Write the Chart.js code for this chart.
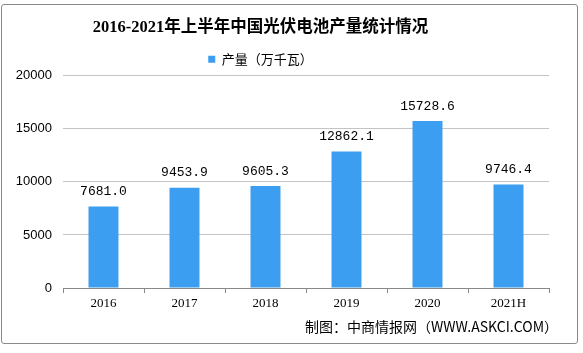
<!DOCTYPE html>
<html><head><meta charset="utf-8">
<script src="https://cdn.jsdelivr.net/npm/chart.js@4/dist/chart.umd.min.js"></script>
<style>
html,body{margin:0;padding:0;background:#fff;}
#wrap{position:relative;width:583px;height:353px;}
#frame{position:absolute;left:1px;top:4px;width:577px;height:340px;border:1px solid #8a8a8a;border-radius:3px;box-sizing:border-box;pointer-events:none;}
#footer{position:absolute;left:305px;top:317px;font:14px "Noto Sans CJK SC","Liberation Sans",sans-serif;color:#000;white-space:nowrap;line-height:18px;}
canvas{position:absolute;left:0;top:0;}
</style></head>
<body><div id="wrap"><canvas id="c" width="583" height="353"></canvas><div id="frame"></div>
<div id="footer">制图：中商情报网（WWW.ASKCI.COM）</div></div>
<script>
const categories = ["2016","2017","2018","2019","2020","2021H"];
const production = [7681.0, 9453.9, 9605.3, 12862.1, 15728.6, 9746.4];
const yTicks = [0, 5000, 10000, 15000, 20000];
const seriesName = "产量（万千瓦）";
const titleText = "2016-2021年上半年中国光伏电池产量统计情况";

const valueLabels = {
  id: 'valueLabels',
  afterDatasetsDraw(chart) {
    const ctx = chart.ctx;
    const meta = chart.getDatasetMeta(0);
    ctx.save();
    ctx.font = '13px "Liberation Mono", monospace';
    ctx.fillStyle = '#000';
    ctx.textAlign = 'center';
    ctx.textBaseline = 'middle';
    meta.data.forEach((el, i) => {
      ctx.fillText(production[i].toFixed(1), el.x, el.y - 15);
    });
    ctx.restore();
  }
};

// shift title and legend slightly left, as in the reference
const headerShift = {
  id: 'headerShift',
  afterLayout(chart) {
    const dx = -14;
    [chart.titleBlock, chart.legend].forEach(b => {
      if (b) { b.left += dx; b.right += dx; }
    });
  }
};

new Chart(document.getElementById('c'), {
  type: 'bar',
  data: {
    labels: categories,
    datasets: [{
      label: seriesName,
      data: production,
      backgroundColor: '#3c9ef0',
      borderWidth: 0,
      barPercentage: 0.74,
      categoryPercentage: 0.5
    }]
  },
  options: {
    responsive: false,
    animation: false,
    devicePixelRatio: 1,
    layout: { padding: { left: 0, right: 34, top: 8, bottom: 35 } },
    plugins: {
      title: {
        display: true,
        text: titleText,
        color: '#000',
        font: { family: '"Liberation Serif","Noto Sans CJK SC",serif', size: 16.5, weight: 'bold' },
        padding: { top: 10, bottom: 8 }
      },
      legend: {
        display: true,
        labels: {
          color: '#000',
          boxWidth: 7, boxHeight: 7,
          font: { family: '"Noto Sans CJK SC",sans-serif', size: 13 },
          padding: 7
        }
      },
      tooltip: { enabled: false }
    },
    scales: {
      x: {
        afterFit(s) { s.height = 30; },
        grid: { offset: true, drawOnChartArea: false, drawTicks: true, tickLength: 5, color: '#888' },
        border: { display: true, color: '#888' },
        ticks: { color: '#000', padding: 3, font: { family: '"Liberation Serif",serif', size: 13 } }
      },
      y: {
        min: 0, max: 20000,
        afterFit(s) { s.width = 63; },
        afterBuildTicks(s) { s.ticks = yTicks.map(v => ({ value: v })); },
        grid: { color: '#c4c4c4', drawTicks: false },
        border: { display: false },
        ticks: { color: '#000', padding: 11, font: { family: '"Liberation Sans",sans-serif', size: 13 },
          callback: v => String(v) }
      }
    }
  },
  plugins: [valueLabels, headerShift]
});
</script></body></html>
